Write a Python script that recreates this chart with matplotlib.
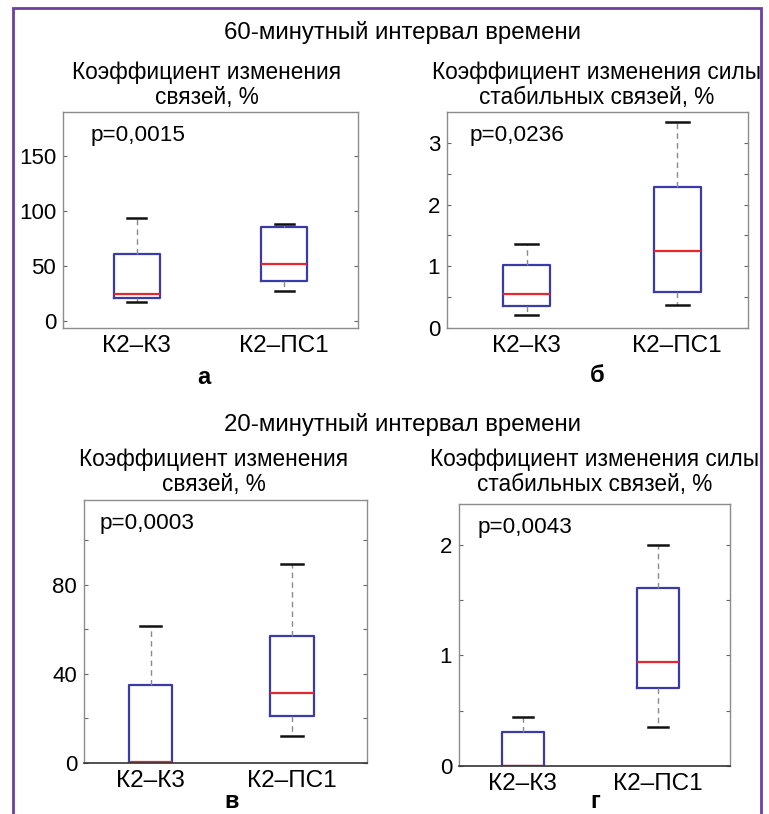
import matplotlib.pyplot as plt
from matplotlib.patches import Rectangle
from matplotlib.ticker import FixedLocator, NullFormatter

plt.rcParams['font.family'] = ['Liberation Sans', 'DejaVu Sans']

W, H = 769, 814

groups = ["К2–К3", "К2–ПС1"]

# boxplot stats: [low whisker, q1, median, q3, high whisker]
a_k3 = [17.5, 21, 25, 61.5, 94]
a_ps1 = [27.5, 36.4, 52.4, 86, 88]
b_k3 = [0.21, 0.36, 0.55, 1.02, 1.36]
b_ps1 = [0.37, 0.58, 1.24, 2.29, 3.33]
v_k3 = [0, 0, 0.4, 34.8, 61.5]
v_ps1 = [12.2, 21.2, 31.5, 57, 89.4]
g_k3 = [0, 0, 0, 0.31, 0.44]
g_ps1 = [0.35, 0.71, 0.94, 1.61, 2.0]

p_values = ["p=0,0015", "p=0,0236", "p=0,0003", "p=0,0043"]
panel_letters = ["а", "б", "в", "г"]
title_count = "Коэффициент изменения\nсвязей, %"
title_force = "Коэффициент изменения силы\nстабильных связей, %"
header_60 = "60-минутный интервал времени"
header_20 = "20-минутный интервал времени"


def fx(x):
    return x / W


def fy(y):
    return 1 - y / H


def px_axes(l, t, r, b):
    return fig.add_axes([l / W, 1 - b / H, (r - l) / W, (b - t) / H])


def draw_box(ax, data, xlim, ylim, major, labeled, minor=None, capw=0.15, dark_bottom=False):
    stats = []
    for d in data:
        stats.append(dict(whislo=d[0], q1=d[1], med=d[2], q3=d[3], whishi=d[4], fliers=[]))
    ax.bxp(stats, positions=[1, 2], widths=0.31, capwidths=capw, showfliers=False,
           boxprops=dict(color="#3a3aa8", linewidth=1.6),
           medianprops=dict(color="#e8262e", linewidth=1.6),
           whiskerprops=dict(color="#8a8a8a", linewidth=1.0, linestyle=(0, (4, 3))),
           capprops=dict(color="#111111", linewidth=1.8))
    ax.set_xlim(*xlim)
    ax.set_ylim(*ylim)
    ax.set_xticks([1, 2])
    ax.set_xticklabels(groups, fontsize=17.5)
    ax.tick_params(axis="x", length=0, pad=5)
    ax.yaxis.set_major_locator(FixedLocator(major))
    ax.set_yticklabels([str(v) if v in labeled else "" for v in major], fontsize=16)
    if minor is not None:
        ax.yaxis.set_minor_locator(FixedLocator(minor))
        ax.yaxis.set_minor_formatter(NullFormatter())
    ax.tick_params(axis="y", which="both", direction="in", left=True, right=True,
                   length=3, width=0.8, color="#666666", pad=5)
    for s in ax.spines.values():
        s.set_color("#8c8c8c")
        s.set_linewidth(1.0)
    if dark_bottom:
        ax.spines["bottom"].set_color("#333333")
        ax.spines["bottom"].set_linewidth(1.2)


fig = plt.figure(figsize=(W / 100, H / 100), dpi=100)

ax_a = px_axes(63, 112, 358, 328)
draw_box(ax_a, [a_k3, a_ps1], (0.5, 2.5), (-6, 190), [0, 50, 100, 150], [0, 50, 100, 150], capw=0.13)

ax_b = px_axes(447, 112, 748, 328)
draw_box(ax_b, [b_k3, b_ps1], (0.47, 2.47), (0, 3.5), [0, 1, 2, 3], [0, 1, 2, 3], minor=[0.5, 1.5, 2.5])

ax_v = px_axes(84, 500, 367, 763)
draw_box(ax_v, [v_k3, v_ps1], (0.53, 2.53), (0, 118), [0, 20, 40, 60, 80, 100], [0, 40, 80], dark_bottom=True)

ax_g = px_axes(459, 504, 730, 766)
draw_box(ax_g, [g_k3, g_ps1], (0.53, 2.53), (0, 2.37), [0, 0.5, 1, 1.5, 2], [0, 1, 2], dark_bottom=True)
ax_g.set_yticklabels(["0", "", "1", "", "2"], fontsize=16)

# headers and panel titles
fig.text(fx(403), fy(33), header_60, ha="center", va="center", fontsize=17.3)
fig.text(fx(403), fy(425), header_20, ha="center", va="center", fontsize=17.3)
fig.text(fx(207), fy(85), title_count, ha="center", va="center", fontsize=16.3, linespacing=1.1)
fig.text(fx(597), fy(85), title_force, ha="center", va="center", fontsize=16.3, linespacing=1.1)
fig.text(fx(214), fy(472), title_count, ha="center", va="center", fontsize=16.3, linespacing=1.1)
fig.text(fx(595), fy(472), title_force, ha="center", va="center", fontsize=16.3, linespacing=1.1)

# p-values
for (x, y), p in zip([(91, 135), (470, 135), (100, 523), (478, 528)], p_values):
    fig.text(fx(x), fy(y), p, ha="left", va="center", fontsize=16.2)

# panel letters
for (x, y), s in zip([(204, 377), (597, 375), (232, 802), (595, 802)], panel_letters):
    fig.text(fx(x), fy(y), s, ha="center", va="center", fontsize=17, fontweight="bold")

# purple frame round the figure
fig.add_artist(Rectangle((fx(13), fy(825)), fx(761) - fx(13), fy(8) - fy(825),
                         transform=fig.transFigure, fill=False, edgecolor="#6b3fa0", linewidth=2))

fig.savefig("out.png", dpi=100)
